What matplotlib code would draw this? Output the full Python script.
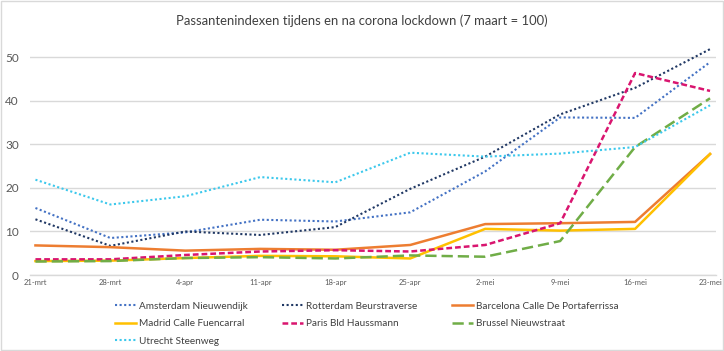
"""Passantenindexen tijdens en na corona lockdown (7 maart = 100)."""

import matplotlib
matplotlib.use('Agg')
import matplotlib.pyplot as plt
from matplotlib.patches import Rectangle

plt.rcParams['font.family'] = ['Lato', 'DejaVu Sans']

# Data
weeks = ["21-mrt", "28-mrt", "4-apr", "11-apr", "18-apr", "25-apr",
         "2-mei", "9-mei", "16-mei", "23-mei"]

amsterdam = [15.4, 8.5, 9.8, 12.7, 12.3, 14.4, 23.8, 36.2, 36.1, 48.9]
rotterdam = [12.8, 6.7, 10.0, 9.2, 11.0, 19.8, 27.2, 36.9, 43.0, 51.9]
barcelona = [6.8, 6.4, 5.6, 6.0, 5.8, 6.9, 11.7, 11.9, 12.2, 27.8]
madrid = [3.2, 3.3, 3.9, 4.4, 4.3, 3.8, 10.6, 10.2, 10.6, 27.8]
paris = [3.6, 3.6, 4.6, 5.4, 5.7, 5.4, 6.9, 11.9, 46.4, 42.3]
brussel = [3.1, 3.2, 3.9, 4.1, 3.8, 4.5, 4.2, 7.8, 29.4, 40.6]
utrecht = [21.9, 16.2, 18.1, 22.5, 21.3, 28.1, 27.2, 27.9, 29.4, 39.0]

dot = (0, (1, 1.2))
series = [
    ("Amsterdam Nieuwendijk", amsterdam, "#4472C4", dot, 1.5),
    ("Rotterdam Beurstraverse", rotterdam, "#203864", dot, 1.5),
    ("Barcelona Calle De Portaferrissa", barcelona, "#ED7D31", "-", 1.8),
    ("Madrid Calle Fuencarral", madrid, "#FFC000", "-", 1.8),
    ("Paris Bld Haussmann", paris, "#D9156F", (0, (2.3, 1.2)), 1.8),
    ("Brussel Nieuwstraat", brussel, "#70AD47", (0, (4.5, 2)), 1.8),
    ("Utrecht Steenweg", utrecht, "#3CC8EC", dot, 1.5),
]

fig = plt.figure(figsize=(7.24, 3.51), dpi=100)
ax = fig.add_axes([0.0414, 0.2165, 0.9476, 0.682])

x = list(range(len(weeks)))
lines = {}
for name, vals, color, ls, lw in series:
    ln, = ax.plot(x, vals, color=color, linestyle=ls, linewidth=lw,
                  label=name)
    lines[name] = ln

ax.set_xlim(-0.073, 9.08)
ax.set_ylim(0, 55)
ax.set_yticks(range(0, 51, 10))
ax.set_xticks(x)
ax.set_xticklabels(weeks, fontsize=5.5, color="#595959")
ax.tick_params(axis='y', labelsize=8.5, colors="#595959", length=0, pad=8)
ax.tick_params(axis='x', length=0, pad=3)
ax.yaxis.grid(True, color="#d9d9d9", linewidth=1)
ax.set_axisbelow(True)
for s in ['top', 'right', 'left']:
    ax.spines[s].set_visible(False)
ax.spines['bottom'].set_color("#d9d9d9")
ax.spines['bottom'].set_linewidth(1)

fig.text(0.5, 0.94, "Passantenindexen tijdens en na corona lockdown (7 maart = 100)",
         ha='center', va='center', fontsize=9.4, color="#404040")

# Legend, row-major order like the original (matplotlib fills column by column)
order = ["Amsterdam Nieuwendijk", "Madrid Calle Fuencarral", "Utrecht Steenweg",
         "Rotterdam Beurstraverse", "Paris Bld Haussmann",
         "Barcelona Calle De Portaferrissa", "Brussel Nieuwstraat"]
leg = fig.legend([lines[n] for n in order], order, ncol=3, frameon=False,
                 loc='upper left', bbox_to_anchor=(0.152, 0.155),
                 fontsize=7.2, handlelength=2.1, handletextpad=0.3,
                 columnspacing=3.45, labelspacing=0.85, borderpad=0)
for t in leg.get_texts():
    t.set_color("#404040")

fig.patches.append(Rectangle((0.001, 0.002), 0.997, 0.995, transform=fig.transFigure,
                             fill=False, edgecolor="#d9d9d9", linewidth=1))

plt.savefig("out.png", dpi=100)
